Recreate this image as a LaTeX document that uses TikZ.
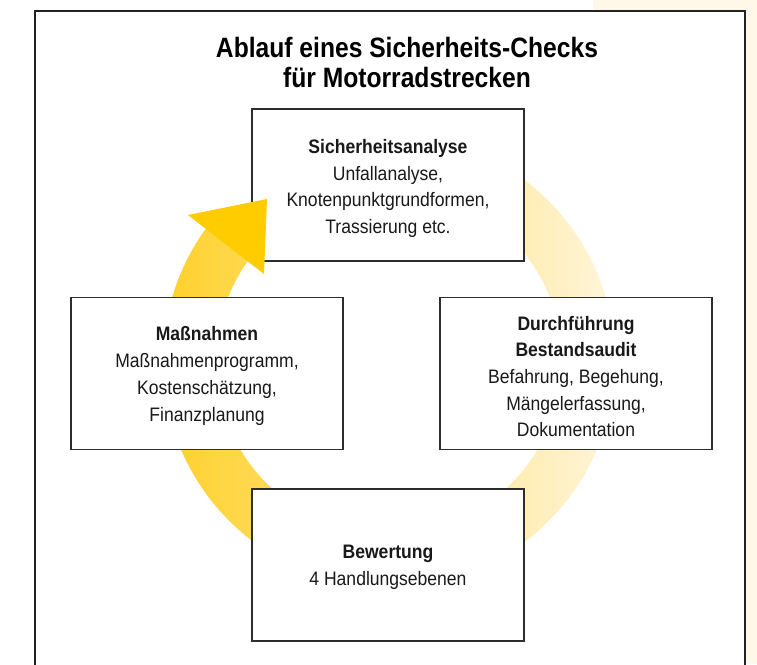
\documentclass[tikz,border=0pt]{standalone}
\usepackage{fontspec}
\setmainfont{Liberation Sans}[FakeStretch=0.90]
\newfontfamily\titlefont{Liberation Sans}[FakeStretch=0.88]
\usetikzlibrary{calc}

\definecolor{paper}{RGB}{255,248,232}
\definecolor{frameline}{RGB}{34,34,34}
\definecolor{boxline}{RGB}{45,45,45}
\definecolor{ringL}{RGB}{255,208,40}
\definecolor{ringR}{RGB}{255,246,222}
\definecolor{headcol}{RGB}{255,204,0}
\definecolor{txt}{RGB}{25,25,25}

\newcommand{\boxfont}{\fontsize{19.5}{26.7}\selectfont}

\begin{document}
\begin{tikzpicture}[x=1pt,y=-1pt,
  stepbox/.style={draw=boxline, line width=1.3pt, fill=white,
    minimum width=272pt, minimum height=152pt, inner sep=0pt},
  steptext/.style={align=center, text=txt, font=\boxfont, inner sep=0pt},
  ringshade/.style={left color=ringL, right color=ringR},
  headfill/.style={fill=headcol}]

\useasboundingbox (0,0) rectangle (757,664);
\clip (0,0) rectangle (757,664);

% cream backdrop and white page frame
\fill[paper] (593,0) rectangle (757,664);
\draw[frameline, fill=white, line width=1.5pt] (35,11) rectangle (745,700);

% cycle ring behind the boxes
\coordinate (c) at (389,361);
\shade[ringshade]
  (c) ++(-85:226) arc[start angle=-85, end angle=217, radius=226]
  -- ($(c)+(217:173)$) arc[start angle=217, end angle=-85, radius=173] -- cycle;

% process steps
\node[stepbox] (ana) at (388,185) {};
\node[stepbox] (aud) at (576,373.5) {};
\node[stepbox] (bew) at (388,565) {};
\node[stepbox] (mas) at (207,373.5) {};

\node[steptext] (anaT) at ([yshift=-3.5pt]ana.center) {\textbf{Sicherheitsanalyse}\\Unfallanalyse,\\Knotenpunktgrundformen,\\Trassierung etc.};
\node[steptext] (audT) at ([yshift=-3pt]aud.center) {\textbf{Durchführung}\\\textbf{Bestandsaudit}\\Befahrung, Begehung,\\Mängelerfassung,\\Dokumentation};
\node[steptext] (bewT) at ([yshift=-2.5pt]bew.center) {\textbf{Bewertung}\\4 Handlungsebenen};
\node[steptext] (masT) at ([yshift=-2.5pt]mas.center) {\textbf{Maßnahmen}\\Maßnahmenprogramm,\\Kostenschätzung,\\Finanzplanung};

% arrow head closing the cycle
\coordinate (hA) at (188,215);
\coordinate (hB) at (267,199);
\coordinate (hC) at (264,274);
\fill[headfill] (hA) -- (hB) -- (hC) -- cycle;

% heading
\node[font=\titlefont\bfseries\fontsize{28}{30}\selectfont, align=center, text=black] (title) at (407,62)
  {Ablauf eines Sicherheits-Checks\\für Motorradstrecken};
\end{tikzpicture}
\end{document}
